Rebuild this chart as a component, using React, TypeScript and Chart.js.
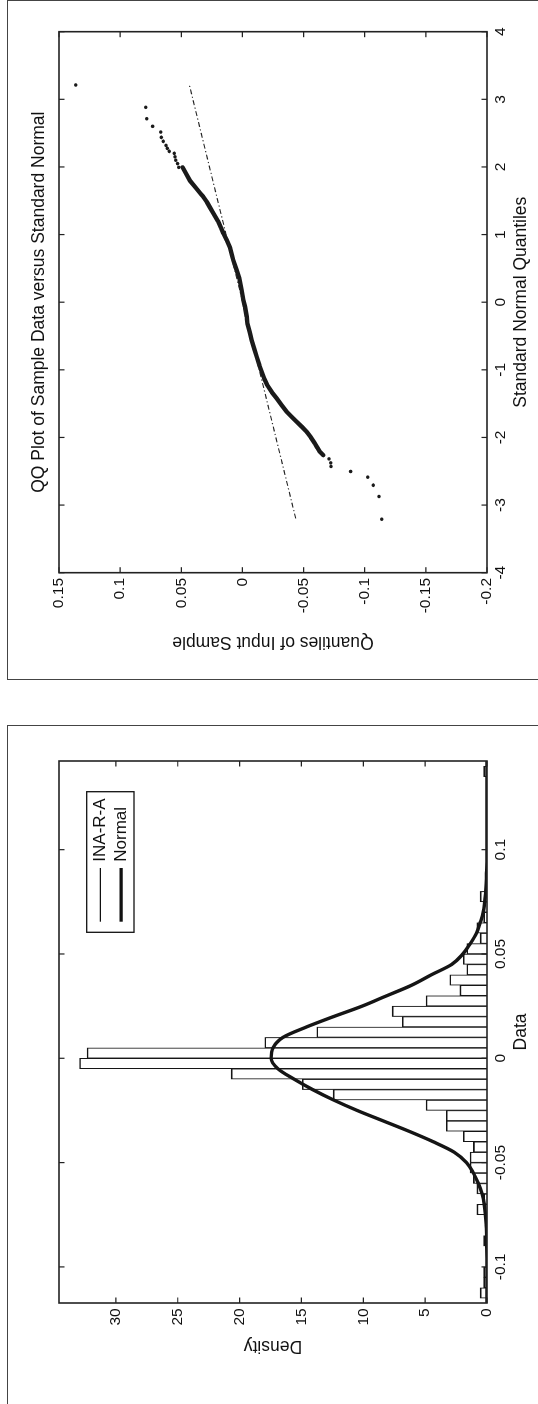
import React, { useEffect, useRef } from "react";
import { Chart, registerables } from "chart.js";

Chart.register(...registerables);

const FONT = "'Liberation Sans', Arial, Helvetica, sans-serif";
const INK = "#111";
const TICK_SIZE = 15.5;
const LABEL_SIZE = 17.5;

// ---------------- Histogram panel data ----------------
const histBinCenters = [
  -0.1125, -0.1075, -0.1025, -0.0975, -0.0925, -0.0875, -0.0825, -0.0775, -0.0725, -0.0675,
  -0.0625, -0.0575, -0.0525, -0.0475, -0.0425, -0.0375, -0.0325, -0.0275, -0.0225, -0.0175,
  -0.0125, -0.0075, -0.0025, 0.0025, 0.0075, 0.0125, 0.0175, 0.0225, 0.0275, 0.0325,
  0.0375, 0.0425, 0.0475, 0.0525, 0.0575, 0.0625, 0.0675, 0.0725, 0.0775, 0.0825,
  0.0875, 0.0925, 0.0975, 0.1025, 0.1075, 0.1125, 0.1175, 0.1225, 0.1275, 0.1325, 0.1375,
];
const histDensity = [
  0.55, 0.27, 0.27, 0, 0, 0.27, 0, 0, 0.82, 0.27,
  0.82, 1.1, 1.37, 1.37, 1.1, 1.92, 3.29, 3.29, 4.93, 12.44,
  14.93, 20.68, 32.94, 32.33, 17.97, 13.76, 6.85, 7.67, 4.93, 2.19,
  3.01, 1.64, 1.92, 1.64, 0.55, 0.82, 0.27, 0.27, 0.55, 0,
  0, 0, 0, 0, 0, 0, 0, 0, 0, 0, 0.27,
];
const normalX = [
  -0.1173, -0.1, -0.09, -0.08, -0.07, -0.065, -0.06, -0.055, -0.05, -0.045, -0.04, -0.035,
  -0.03, -0.025, -0.02, -0.015, -0.01, -0.005, 0, 0.005, 0.01, 0.015, 0.02, 0.025, 0.03,
  0.035, 0.04, 0.045, 0.05, 0.055, 0.06, 0.065, 0.07, 0.08, 0.09, 0.1, 0.1425,
];
const normalY = [
  0, 0.005, 0.02, 0.07, 0.22, 0.4, 0.7, 1.1, 1.65, 2.65, 4.35, 6.3,
  8.4, 10.5, 12.4, 14.1, 15.6, 16.9, 17.45, 17.3, 16.5, 14.6, 12.4, 10.1, 8.1,
  6.1, 4.5, 2.85, 1.95, 1.35, 0.85, 0.55, 0.3, 0.1, 0.03, 0.01, 0,
];
const histXTicks = [-0.1, -0.05, 0, 0.05, 0.1];
const histYTicks = [0, 5, 10, 15, 20, 25, 30];
const histXRange = [-0.1173, 0.1425];
const histYRange = [0, 34.6];
const histLegend = ["INA-R-A", "Normal"];

// ---------------- QQ panel data ----------------
const qqCoreX = [
  1.994, 1.9, 1.796, 1.7, 1.6, 1.559, 1.485, 1.4, 1.314, 1.2, 1.1, 1.018, 0.919, 0.8, 0.7,
  0.623, 0.475, 0.35, 0.179, 0.03, -0.068, -0.216, -0.314, -0.45, -0.561, -0.683, -0.808,
  -0.93, -1.03, -1.13, -1.226, -1.33, -1.423, -1.52, -1.621, -1.7, -1.769, -1.85, -1.917,
  -2.0, -2.089, -2.15, -2.213, -2.262,
];
const qqCoreY = [
  0.0489, 0.046, 0.0429, 0.0385, 0.034, 0.032, 0.0292, 0.0265, 0.0238, 0.02, 0.0175, 0.0156,
  0.0129, 0.01, 0.0087, 0.0075, 0.0047, 0.0025, 0.0006, -0.0008, -0.0021, -0.0035, -0.004,
  -0.006, -0.0076, -0.0095, -0.0117, -0.0138, -0.0158, -0.0178, -0.0203, -0.024, -0.028,
  -0.032, -0.0362, -0.0405, -0.0444, -0.049, -0.0526, -0.056, -0.0593, -0.0612, -0.0634,
  -0.0661,
];
const qqTailX = [
  3.212, 2.882, 2.713, 2.601, 2.516, 2.438, 2.379, 2.319, 2.275, 2.231,
  2.201, 2.15, 2.1, 2.05, 1.994,
  -2.317, -2.376, -2.429, -2.503, -2.587, -2.706, -2.873, -3.209,
];
const qqTailY = [
  0.1363, 0.0791, 0.0783, 0.0734, 0.0668, 0.0663, 0.0647, 0.0625, 0.0614, 0.0598,
  0.0557, 0.0552, 0.0545, 0.053, 0.0521,
  -0.0708, -0.0722, -0.0724, -0.0885, -0.1025, -0.107, -0.1117, -0.1139,
];
const qqRefX = [-3.198, 3.212];
const qqRefY = [-0.0436, 0.0434];
const qqXTicks = [-4, -3, -2, -1, 0, 1, 2, 3, 4];
const qqYTicks = [-0.2, -0.15, -0.1, -0.05, 0, 0.05, 0.1, 0.15];
const qqXRange = [-4, 4];
const qqYRange = [-0.2, 0.15];
const qqTitle = "QQ Plot of Sample Data versus Standard Normal";

const fmt = (v: number) => String(Number(Number(v).toFixed(4)));

function axesPlugin(xTicks: number[], yTicks: number[], extra?: (chart: any) => void) {
  return {
    id: "matlabAxes",
    afterDraw(chart: any) {
      const { ctx, chartArea: a, scales } = chart;
      ctx.save();
      const L = 5.5;
      ctx.strokeStyle = "#222";
      ctx.lineWidth = 1.2;
      ctx.beginPath();
      for (const v of xTicks) {
        const p = scales.x.getPixelForValue(v);
        ctx.moveTo(p, a.bottom);
        ctx.lineTo(p, a.bottom - L);
        ctx.moveTo(p, a.top);
        ctx.lineTo(p, a.top + L);
      }
      for (const v of yTicks) {
        const p = scales.y.getPixelForValue(v);
        ctx.moveTo(a.left, p);
        ctx.lineTo(a.left + L, p);
        ctx.moveTo(a.right, p);
        ctx.lineTo(a.right - L, p);
      }
      ctx.stroke();
      ctx.lineWidth = 1.6;
      ctx.strokeRect(a.left, a.top, a.right - a.left, a.bottom - a.top);
      if (extra) extra(chart);
      ctx.restore();
    },
  };
}

function scaleOpts(
  ticks: number[],
  range: number[],
  title: string,
  size: number,
  horizontal: boolean,
  titlePad: number
) {
  return {
    type: "linear",
    min: range[0],
    max: range[1],
    offset: false,
    grid: { display: false, drawTicks: false, offset: false },
    border: { display: false },
    afterBuildTicks: (s: any) => {
      s.ticks = ticks.map((v) => ({ value: v }));
    },
    afterFit: (s: any) => {
      if (horizontal) s.height = size;
      else s.width = size;
      s.paddingLeft = 0;
      s.paddingRight = 0;
      s.paddingTop = 0;
      s.paddingBottom = 0;
    },
    ticks: {
      autoSkip: false,
      maxRotation: 0,
      minRotation: 0,
      includeBounds: false,
      padding: horizontal ? 4.3 : 5.3,
      color: INK,
      font: { family: FONT, size: TICK_SIZE },
      callback: (v: number) => fmt(v),
    },
    title: {
      display: true,
      text: title,
      color: INK,
      font: { family: FONT, size: LABEL_SIZE },
      padding: horizontal ? { top: 0, bottom: titlePad } : { top: titlePad, bottom: 0 },
    },
  };
}

export default function App() {
  const histRef = useRef<HTMLCanvasElement>(null);
  const qqRef = useRef<HTMLCanvasElement>(null);

  useEffect(() => {
    const legendDraw = (chart: any) => {
      const { ctx } = chart;
      ctx.fillStyle = "#fff";
      ctx.fillRect(471.7, 86.7, 140.6, 47.3);
      ctx.strokeStyle = "#111";
      ctx.lineWidth = 1.3;
      ctx.strokeRect(471.7, 86.7, 140.6, 47.3);
      const rows = [100.3, 121.2];
      const widths = [1.2, 3.3];
      ctx.font = `${LABEL_SIZE - 0.5}px ${FONT}`;
      ctx.textBaseline = "middle";
      ctx.textAlign = "left";
      histLegend.forEach((lab, i) => {
        ctx.beginPath();
        ctx.lineWidth = widths[i];
        ctx.moveTo(482.3, rows[i]);
        ctx.lineTo(536, rows[i]);
        ctx.stroke();
        ctx.fillStyle = INK;
        ctx.fillText(lab, 542.3, rows[i]);
      });
    };

    const hist = new Chart(histRef.current as HTMLCanvasElement, {
      type: "bar",
      data: {
        datasets: [
          {
            type: "line",
            label: histLegend[1],
            data: normalX.map((x, i) => ({ x, y: normalY[i] })),
            borderColor: "#151515",
            borderWidth: 3.4,
            pointRadius: 0,
            fill: false,
            cubicInterpolationMode: "monotone",
            order: 1,
          } as any,
          {
            type: "bar",
            label: histLegend[0],
            data: histBinCenters.map((x, i) => ({ x, y: histDensity[i] > 0 ? histDensity[i] : null })),
            backgroundColor: "#ffffff",
            borderColor: "#151515",
            borderWidth: { top: 1.6, left: 1.05, right: 1.05, bottom: 0 },
            borderSkipped: "start",
            barPercentage: 1,
            categoryPercentage: 1,
            order: 2,
          } as any,
        ],
      },
      options: {
        animation: false,
        responsive: false,
        devicePixelRatio: 1,
        layout: { padding: { top: 59, right: 35, left: 0, bottom: 0 } },
        plugins: { legend: { display: false }, tooltip: { enabled: false }, title: { display: false } },
        scales: {
          x: scaleOpts(histXTicks, histXRange, "Data", 51, true, 6.2) as any,
          y: scaleOpts(histYTicks, histYRange, "Density", 101, false, 48) as any,
        },
      },
      plugins: [axesPlugin(histXTicks, histYTicks, legendDraw)],
    });

    const titleDraw = (chart: any) => {
      const { ctx, chartArea: a } = chart;
      ctx.fillStyle = INK;
      ctx.font = `${LABEL_SIZE}px ${FONT}`;
      ctx.textAlign = "center";
      ctx.textBaseline = "middle";
      ctx.fillText(qqTitle, (a.left + a.right) / 2, 39.3);
    };

    const qq = new Chart(qqRef.current as HTMLCanvasElement, {
      type: "scatter",
      data: {
        datasets: [
          {
            label: "ref",
            data: qqRefX.map((x, i) => ({ x, y: qqRefY[i] })),
            showLine: true,
            borderColor: "#222",
            borderWidth: 1.1,
            borderDash: [5, 2.5, 1.2, 2.5],
            pointRadius: 0,
          },
          {
            label: "core",
            data: qqCoreX.map((x, i) => ({ x, y: qqCoreY[i] })),
            showLine: true,
            borderColor: "#1a1a1a",
            borderWidth: 4.4,
            borderCapStyle: "round",
            borderJoinStyle: "round",
            pointRadius: 0,
          } as any,
          {
            label: "tail",
            data: qqTailX.map((x, i) => ({ x, y: qqTailY[i] })),
            showLine: false,
            backgroundColor: "#1a1a1a",
            borderWidth: 0,
            pointRadius: 1.8,
          },
        ],
      },
      options: {
        animation: false,
        responsive: false,
        devicePixelRatio: 1,
        layout: { padding: { top: 59, right: 31.7, left: 0, bottom: 0 } },
        plugins: { legend: { display: false }, tooltip: { enabled: false }, title: { display: false } },
        scales: {
          x: scaleOpts(qqXTicks, qqXRange, "Standard Normal Quantiles", 51, true, 6.2) as any,
          y: scaleOpts(qqYTicks, qqYRange, "Quantiles of Input Sample", 106.3, false, 26.5) as any,
        },
      },
      plugins: [axesPlugin(qqXTicks, qqYTicks, titleDraw)],
    });

    return () => {
      hist.destroy();
      qq.destroy();
    };
  }, []);

  const frame = "1.5px solid #444";
  return (
    <div
      style={{
        position: "fixed",
        left: 0,
        top: 0,
        width: 538,
        height: 1404,
        overflow: "hidden",
        background: "#fff",
      }}
    >
      <div
        style={{
          position: "absolute",
          left: 0,
          top: 0,
          width: 1404,
          height: 538,
          overflow: "hidden",
          transformOrigin: "0 0",
          transform: "translate(0px, 1404px) rotate(-90deg)",
          background: "#fff",
        }}
      >
        <div
          style={{
            position: "absolute",
            left: -20,
            top: 6.75,
            width: 699,
            height: 700,
            border: frame,
            boxSizing: "border-box",
          }}
        />
        <div
          style={{
            position: "absolute",
            left: 724.25,
            top: 6.75,
            width: 680,
            height: 700,
            border: frame,
            boxSizing: "border-box",
          }}
        />
        <canvas
          ref={histRef}
          width={678}
          height={538}
          style={{ position: "absolute", left: 0, top: 0, width: 678, height: 538 }}
        />
        <canvas
          ref={qqRef}
          width={679}
          height={538}
          style={{ position: "absolute", left: 725, top: 0, width: 679, height: 538 }}
        />
      </div>
    </div>
  );
}
